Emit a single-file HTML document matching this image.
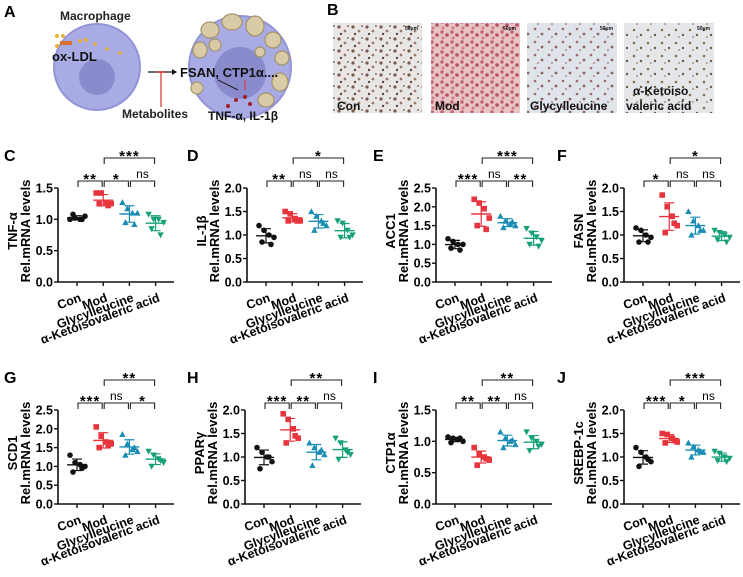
<!DOCTYPE html>
<html><head><meta charset="utf-8"><style>
html,body{margin:0;padding:0;background:#fff;}
svg{display:block;font-family:"Liberation Sans",Arial,sans-serif;font-weight:bold;}
</style></head><body>
<svg id="fig" width="743" height="577" viewBox="0 0 743 577" xmlns="http://www.w3.org/2000/svg">
<defs>
<pattern id="pCon" width="14" height="12" patternUnits="userSpaceOnUse"><rect width="14" height="12" fill="#e9e6e6"/><circle cx="3" cy="3" r="1.6" fill="#7a5a4a"/><circle cx="9" cy="7" r="1.4" fill="#9c7a66"/><circle cx="5" cy="10" r="1.2" fill="#5e4a44"/><circle cx="12" cy="2" r="1" fill="#8a6f62"/></pattern>
<pattern id="pMod" width="10" height="10" patternUnits="userSpaceOnUse"><rect width="10" height="10" fill="#e7c3c6"/><circle cx="2" cy="2" r="1.7" fill="#c1636e"/><circle cx="7" cy="5" r="1.8" fill="#b5525f"/><circle cx="3" cy="8" r="1.5" fill="#d07a84"/></pattern>
<pattern id="pGly" width="14" height="13" patternUnits="userSpaceOnUse"><rect width="14" height="13" fill="#dfe3ea"/><circle cx="3" cy="3" r="1.3" fill="#a06a6a"/><circle cx="10" cy="8" r="1.4" fill="#8f6560"/><circle cx="6" cy="11" r="1" fill="#b4888a"/></pattern>
<pattern id="pKet" width="14" height="13" patternUnits="userSpaceOnUse"><rect width="14" height="13" fill="#e4e6ea"/><circle cx="4" cy="4" r="1.3" fill="#8a7050"/><circle cx="11" cy="9" r="1.2" fill="#6e5a48"/><circle cx="7" cy="11" r="0.9" fill="#a08060"/></pattern>
</defs>

<g>
<text x="4" y="17" font-size="16">A</text>
<text x="60" y="20" font-size="12" fill="#222">Macrophage</text>
<circle cx="97" cy="67" r="43" fill="#a9abe4" stroke="#9194d6" stroke-width="2"/>
<circle cx="97" cy="77" r="18" fill="#8a8bcc"/>
<circle cx="57" cy="36" r="2" fill="#e5b53a"/><circle cx="63" cy="36" r="2" fill="#e5b53a"/><circle cx="57" cy="46" r="2" fill="#e5b53a"/>
<rect x="60" y="41" width="12" height="4" fill="#d9712e"/><circle cx="80" cy="41" r="2" fill="#e5b53a"/><circle cx="86" cy="40" r="2" fill="#e5b53a"/><circle cx="95" cy="44" r="1.8" fill="#e5b53a"/><circle cx="107" cy="49" r="1.8" fill="#e5b53a"/><circle cx="120" cy="53" r="1.8" fill="#e5b53a"/>
<text x="52" y="61" font-size="13" fill="#111">ox-LDL</text>
<line x1="148" y1="72" x2="172" y2="72" stroke="#111" stroke-width="1.2"/><path d="M172,69 L177,72 L172,75 Z" fill="#111"/>
<line x1="161" y1="72" x2="161" y2="107" stroke="#e0302c" stroke-width="1.2"/><line x1="157" y1="72" x2="165" y2="72" stroke="#e0302c" stroke-width="1.5"/>
<text x="122" y="118" font-size="12" fill="#222">Metabolites</text>
<circle cx="240" cy="67" r="51" fill="#a9abe4" stroke="#9194d6" stroke-width="2"/>
<circle cx="240" cy="73" r="26" fill="#8a8bcc"/>
<g fill="#d8cba6" stroke="#a4936a" stroke-width="1.2">
<ellipse cx="210" cy="30" rx="9" ry="8"/><ellipse cx="232" cy="22" rx="10" ry="8"/><ellipse cx="255" cy="26" rx="9" ry="10"/><ellipse cx="273" cy="40" rx="8" ry="8"/><ellipse cx="282" cy="58" rx="7" ry="7"/><ellipse cx="280" cy="82" rx="8" ry="9"/><ellipse cx="266" cy="100" rx="8" ry="7"/><ellipse cx="200" cy="50" rx="7" ry="8"/><ellipse cx="197" cy="88" rx="6" ry="6"/><ellipse cx="215" cy="45" rx="6" ry="6"/><ellipse cx="260" cy="52" rx="5" ry="5"/>
</g>
<text x="180" y="77" font-size="13" fill="#111">FSAN, CTP1α....</text>
<line x1="218" y1="80" x2="238" y2="90" stroke="#222" stroke-width="1"/><line x1="245" y1="80" x2="245" y2="90" stroke="#e0302c" stroke-width="1"/>
<circle cx="245" cy="97" r="2" fill="#a0202a"/><circle cx="236" cy="100" r="2" fill="#a0202a"/><circle cx="250" cy="104" r="2" fill="#a0202a"/><circle cx="228" cy="106" r="2" fill="#a0202a"/>
<text x="208" y="120" font-size="12" fill="#111">TNF-α, IL-1β</text>
</g>

<g>
<text x="327" y="15" font-size="16">B</text>
<rect x="333" y="23" width="89" height="90" fill="url(#pCon)"/>
<rect x="431" y="23" width="89" height="90" fill="url(#pMod)"/>
<rect x="527" y="23" width="90" height="90" fill="url(#pGly)"/>
<rect x="624" y="23" width="90" height="90" fill="url(#pKet)"/>
<g font-size="5" fill="#111"><text x="405" y="30">50μm</text><text x="503" y="30">50μm</text><text x="600" y="30">50μm</text><text x="697" y="30">50μm</text></g>
<g font-size="12" fill="#111">
<text x="337" y="110">Con</text>
<text x="435" y="110">Mod</text>
<text x="530" y="110">Glycylleucine</text>
<text x="633" y="95">α-Ketoiso</text>
<text x="626" y="110">valeric acid</text>
</g>
</g>
<g id="charts"></g>
</svg>
<script>
const categories = ["Con", "Mod", "Glycylleucine", "α-Ketoisovaleric acid"];
const tnfValues = [[1.0,1.02,1.0,1.05,1.08,1.0],[1.42,1.42,1.27,1.25,1.25,1.22],[1.27,1.17,1.1,1.1,0.95,0.92],[1.08,1.0,1.0,0.95,0.85,0.75]];
const il1bValues = [[1.2,1.1,1.0,0.95,0.85,0.8],[1.5,1.45,1.35,1.3,1.3,1.3],[1.5,1.4,1.3,1.2,1.1,1.25],[1.3,1.25,1.1,1.0,0.95,0.95]];
const acc1Values = [[1.15,1.08,1.0,1.0,0.9,0.85],[2.2,2.1,1.95,1.7,1.5,1.4],[1.75,1.62,1.55,1.5,1.45,1.6],[1.42,1.3,1.2,1.1,1.0,0.95]];
const fasnValues = [[1.15,1.1,1.0,0.95,0.85,0.85],[1.85,1.6,1.4,1.2,1.05,1.25],[1.5,1.3,1.2,1.1,1.0,1.1],[1.1,1.05,1.0,0.95,0.9,0.85]];
const scd1Values = [[1.3,1.1,1.05,1.0,0.85,0.95],[2.05,1.8,1.65,1.6,1.5,1.55],[1.85,1.6,1.45,1.4,1.3,1.5],[1.4,1.3,1.2,1.1,1.0,1.15]];
const pparValues = [[1.2,1.1,1.0,0.9,0.75,1.0],[1.92,1.8,1.6,1.4,1.3,1.45],[1.3,1.2,1.1,1.05,0.82,1.15],[1.4,1.3,1.15,1.05,0.95,1.1]];
const ctp1aValues = [[1.07,1.05,1.03,1.0,0.98,1.05],[0.9,0.8,0.75,0.7,0.62,0.72],[1.15,1.05,1.0,0.95,0.9,1.02],[1.15,1.05,1.0,0.95,0.85,0.92]];
const srebpValues = [[1.2,1.1,1.0,0.9,0.8,0.95],[1.5,1.48,1.4,1.32,1.3,1.35],[1.3,1.22,1.15,1.1,1.0,1.12],[1.12,1.08,1.0,0.97,0.92,0.9]];
const ticks15 = ["0.0","0.5","1.0","1.5"];
const ticks20 = ["0.0","0.5","1.0","1.5","2.0"];
const ticks25 = ["0.0","0.5","1.0","1.5","2.0","2.5"];
const sigC = ["**","*","ns","***"];
const sigD = ["**","ns","ns","*"];
const sigE = ["***","ns","**","***"];
const sigF = ["*","ns","ns","*"];
const sigG = ["***","ns","*","**"];
const sigH = ["***","**","ns","**"];
const sigI = ["**","**","ns","**"];
const sigJ = ["***","*","ns","***"];

const panels = [
 {label:"C",gene:"TNF-α",vals:tnfValues,ticks:ticks15,sig:sigC,lx:4,ax:58,row:0},
 {label:"D",gene:"IL-1β",vals:il1bValues,ticks:ticks20,sig:sigD,lx:187,ax:247,row:0},
 {label:"E",gene:"ACC1",vals:acc1Values,ticks:ticks25,sig:sigE,lx:373,ax:436,row:0},
 {label:"F",gene:"FASN",vals:fasnValues,ticks:ticks20,sig:sigF,lx:557,ax:624,row:0},
 {label:"G",gene:"SCD1",vals:scd1Values,ticks:ticks25,sig:sigG,lx:4,ax:58,row:1},
 {label:"H",gene:"PPARγ",vals:pparValues,ticks:ticks20,sig:sigH,lx:187,ax:245,row:1},
 {label:"I",gene:"CTP1α",vals:ctp1aValues,ticks:ticks15,sig:sigI,lx:373,ax:436,row:1},
 {label:"J",gene:"SREBP-1c",vals:srebpValues,ticks:ticks20,sig:sigJ,lx:557,ax:624,row:1}
];
const colors = ["#111111","#e8343c","#1a8db5","#16a077"];
const jitter = [-7,-2,3,8,-4,5];
const NS = "http://www.w3.org/2000/svg";
const root = document.getElementById("charts");
function mk(tag, attrs, parent, txt){const e=document.createElementNS(NS,tag);for(const k in attrs)e.setAttribute(k,attrs[k]);if(txt!==undefined)e.textContent=txt;parent.appendChild(e);return e;}

panels.forEach(p=>{
  const zeroY = p.row===0 ? 282 : 504;
  const topY = zeroY - 94;
  const yMax = parseFloat(p.ticks[p.ticks.length-1]);
  const y = v => zeroY - v/yMax*(zeroY-topY);
  const x = i => p.ax + 19 + i*26.2;
  const g = mk("g",{},root);
  
  
  const lab = mk("text",{x:p.lx,y:topY-27,"font-size":16},g,p.label);
  
  
  const ya = mk("line",{x1:p.ax,y1:topY,x2:p.ax,y2:zeroY,stroke:"#111","stroke-width":1.6},g);
  
  
  const xa = mk("line",{x1:p.ax-0.8,y1:zeroY,x2:p.ax+116,y2:zeroY,stroke:"#111","stroke-width":1.6},g);
  
  
  p.ticks.forEach(t=>{
    const ty = y(parseFloat(t));
    mk("line",{x1:p.ax-4,y1:ty,x2:p.ax,y2:ty,stroke:"#111","stroke-width":1.4},g);
    const tl = mk("text",{x:p.ax-5,y:ty+4.5,"font-size":12.5,"text-anchor":"end"},g,t);
    
    
  });
  const cy = (topY+zeroY)/2 - 4;
  const t1 = mk("text",{x:0,y:0,"font-size":13,"text-anchor":"middle",transform:`translate(${p.ax-41},${cy}) rotate(-90)`},g,p.gene);
  
  
  const t2 = mk("text",{x:0,y:0,"font-size":13,"text-anchor":"middle",transform:`translate(${p.ax-28},${cy}) rotate(-90)`},g,"Rel.mRNA levels");
  
  
  categories.forEach((c,i)=>{
    mk("line",{x1:x(i),y1:zeroY,x2:x(i),y2:zeroY+4,stroke:"#111","stroke-width":1.4},g);
    const xl = mk("text",{x:0,y:0,"font-size":12.5,"text-anchor":"end",transform:`translate(${x(i)+5},${zeroY+19}) rotate(-20)`},g,c);
    
    
    const vals = p.vals[i];
    const mean = vals.reduce((a,b)=>a+b,0)/vals.length;
    const sd = Math.sqrt(vals.reduce((a,b)=>a+(b-mean)*(b-mean),0)/(vals.length-1));
    const col = colors[i];
    const gg = mk("g",{},g);
    
    
    vals.forEach((v,k)=>{
      const px = x(i)+jitter[k], py = y(v);
      let m;
      if(i===0) m = mk("circle",{cx:px,cy:py,r:2.8,fill:col},gg);
      else if(i===1) m = mk("rect",{x:px-2.8,y:py-2.8,width:5.6,height:5.6,fill:col},gg);
      else if(i===2) m = mk("path",{d:`M${px},${py-3.3} L${px+3.2},${py+2.6} L${px-3.2},${py+2.6} Z`,fill:col},gg);
      else m = mk("path",{d:`M${px},${py+3.3} L${px+3.2},${py-2.6} L${px-3.2},${py-2.6} Z`,fill:col},gg);
      
      
    });
    const ml = mk("line",{x1:x(i)-10,y1:y(mean),x2:x(i)+10,y2:y(mean),stroke:col,"stroke-width":1.4},gg);
    
    
    const eb = mk("path",{d:`M${x(i)},${y(mean+sd)} L${x(i)},${y(mean-sd)} M${x(i)-5},${y(mean+sd)} L${x(i)+5},${y(mean+sd)} M${x(i)-5},${y(mean-sd)} L${x(i)+5},${y(mean-sd)}`,stroke:col,"stroke-width":1.2,fill:"none"},gg);
    
    
  });
  const bs = [[0,1,p.sig[0],topY-7],[1,2,p.sig[1],topY-7],[2,3,p.sig[2],topY-7],[1,3,p.sig[3],topY-30]];
  bs.forEach(b=>{
    const x1 = x(b[0])+1, x2 = x(b[1])-1, by = b[3];
    const br = mk("path",{d:`M${x1},${by+6} L${x1},${by} L${x2},${by} L${x2},${by+6}`,stroke:"#222","stroke-width":1.1,fill:"none"},g);
    
    
    const st = b[2]==="ns";
    const tx = mk("text",{x:(x1+x2)/2,y:st?by-3:by+3,"font-size":st?12:15,"font-weight":st?"normal":"bold","text-anchor":"middle","letter-spacing":st?0:1},g,b[2]);
    
    
  });
});
</script>
</body></html>
